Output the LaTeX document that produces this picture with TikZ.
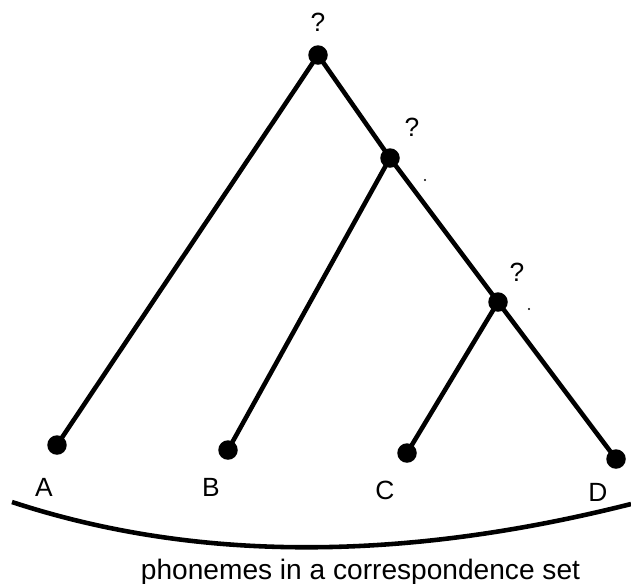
\documentclass[tikz,border=0pt]{standalone}
\usepackage{fontspec}
\setmainfont{Liberation Sans}
\usetikzlibrary{positioning}

\begin{document}
\begin{tikzpicture}[x=0.02cm, y=-0.02cm,
  dot/.style={circle, fill=black, inner sep=0pt, minimum size=0.39cm},
  speck/.style={circle, fill=black, inner sep=0pt, minimum size=1.3pt},
  branch/.style={line width=2.6pt},
  lbl/.style={font=\fontsize{15}{18}\selectfont, inner sep=0pt}]
  \useasboundingbox (0,0) rectangle (631,583);

  % ancestors
  \node[dot] (root) at (318,55) {};
  \node[dot] (mid) at (390,158) {};
  \node[dot] (low) at (498,302) {};
  \node[lbl] (qroot) at (318,22) {?};
  \node[lbl] (qmid) at (412,127) {?};
  \node[lbl] (qlow) at (517,272) {?};
  \node[speck] (smid) at (425,180) {};
  \node[speck] (slow) at (529,309) {};

  % daughter languages
  \node[dot] (a) at (57,445) {};
  \node[dot] (b) at (228,450) {};
  \node[dot] (c) at (407,453) {};
  \node[dot] (d) at (616,459) {};
  \node[lbl] (la) at (44,487) {A};
  \node[lbl] (lb) at (211,487) {B};
  \node[lbl] (lc) at (385,490) {C};
  \node[lbl] (ld) at (598,492) {D};

  \draw[branch] (root.center) -- (a.center);
  \draw[branch] (root.center) -- (mid.center);
  \draw[branch] (mid.center) -- (b.center);
  \draw[branch] (mid.center) -- (low.center);
  \draw[branch] (low.center) -- (c.center);
  \draw[branch] (low.center) -- (d.center);

  % correspondence set
  \coordinate (arcl) at (12,502);
  \coordinate (arcr) at (631,504);
  \draw[branch] (arcl) .. controls (193.7,561.7) and (400,562.3) .. (arcr);
  \node[lbl, font=\fontsize{16}{19}\selectfont, anchor=base] (set) at (360.5,579) {phonemes in a correspondence set};
\end{tikzpicture}
\end{document}
